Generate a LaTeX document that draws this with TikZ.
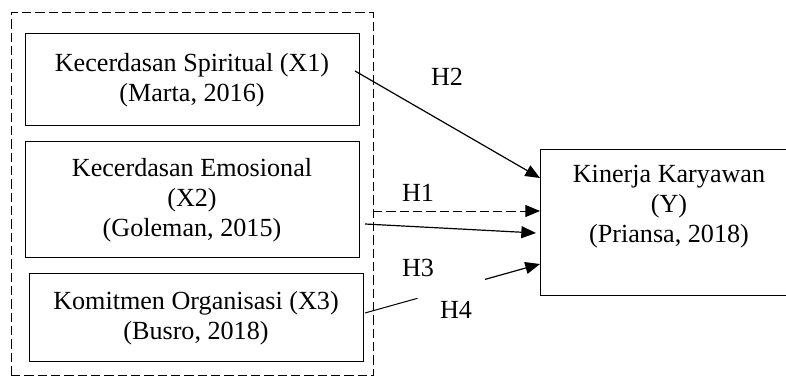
\documentclass[tikz,border=0pt]{standalone}
\usepackage{fontspec}
\setmainfont{Liberation Serif}
\usetikzlibrary{arrows.meta,calc}

\begin{document}
\begin{tikzpicture}[x=0.75pt, y=-0.75pt, line width=0.75pt,
    every node/.style={font=\fontsize{19.6}{22.5}\selectfont, align=center, inner sep=0pt},
    var/.style={draw, rectangle, minimum width=250.5pt},
    hyp/.style={-{Triangle[length=11pt,width=9pt]}, line width=0.9pt},
    grpline/.style={dash pattern=on 7pt off 3pt}]
      \useasboundingbox (0,0) rectangle (786,377);
      \node (grp) at (192,194.5) [draw, grpline, minimum width=271.5pt, minimum height=272.25pt] {};
      \node (x1) at (192,80) [var, minimum height=69pt] {Kecerdasan Spiritual (X1)\\(Marta, 2016)};
      \node (x2) at (192,200) [var, minimum height=87pt] {Kecerdasan Emosional\\(X2)\\(Goleman, 2015)};
      \node (x3) at (196,318) [var, minimum height=66pt] {Komitmen Organisasi (X3)\\(Busro, 2018)};
      \node (y) at (669,223) [var, minimum width=193.5pt, minimum height=109.5pt] {Kinerja Karyawan\\(Y)\\(Priansa, 2018)\\\strut};
      \node (h2) at (447,77) {H2};
      \node (h1) at (418,193) {H1};
      \node (h3) at (418,268) {H3};
      \node (h4) at (456,310) {H4};
      \coordinate (s1) at (355,71);
      \coordinate (e1) at (540,178);
      \coordinate (s2) at (373,211);
      \coordinate (e2) at (540,211);
      \coordinate (s3) at (365,224);
      \coordinate (e3) at (536,233);
      \coordinate (s4) at (365,313);
      \coordinate (e4) at (540,264);
      \foreach \source/\dest in {s1/e1, s3/e3}
        \draw[hyp] (\source) -- (\dest);
      \draw[hyp, grpline, line width=0.7pt] (s2) -- (e2);
      \draw (s4) -- ($(s4)!0.3!(e4)$);
      \draw[hyp] ($(s4)!0.686!(e4)$) -- (e4);
    \end{tikzpicture}
\end{document}
